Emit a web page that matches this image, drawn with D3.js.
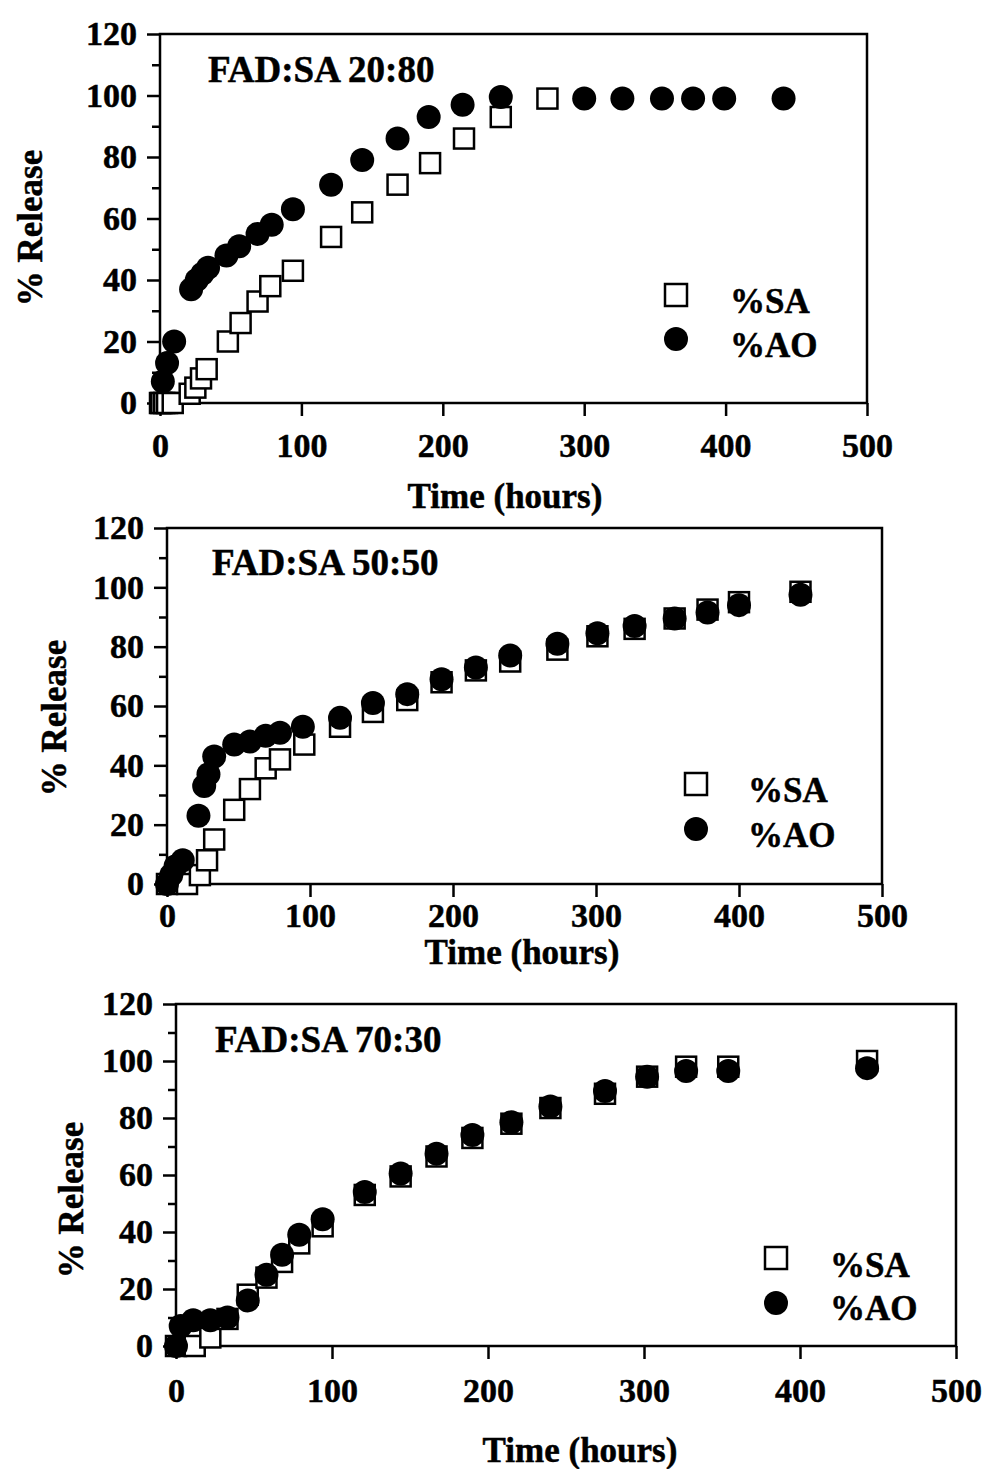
<!DOCTYPE html>
<html>
<head>
<meta charset="utf-8">
<script src="https://cdn.jsdelivr.net/npm/d3@7/dist/d3.min.js"></script>
<style>
  body { margin: 0; background: #fff; }
  text { font-family: "Liberation Serif", "Times New Roman", serif; font-weight: bold; fill: #000;
         stroke: #000; stroke-width: 0.5px; }
</style>
</head>
<body>
<svg id="chart" width="988" height="1469"></svg>
<script>
// ---- data: [time (hours), % release]
var titles = ['FAD:SA 20:80', 'FAD:SA 50:50', 'FAD:SA 70:30'];
var legendLabels = ['%SA', '%AO'];
var xTicks = [0, 100, 200, 300, 400, 500];
var yTicks = [0, 20, 40, 60, 80, 100, 120];
var yMinorTicks = [10, 30, 50, 70, 90, 110];

var sa2080 = [[0,0],[1,0],[3,0],[5,0],[9,0],[21,3],[25,5],[29,8],[33,11],[48,20],[57,26],[69,33],[78,38],[94,43],
  [121,54],[143,62],[168,71],[191,78],[215,86],[241,93],[274,99]];
var ao2080 = [[2,7],[5,13],[10,20],[22,37],[26,40],[30,42],[34,44],[47,48],[56,51],[69,55],[79,58],[94,63],
  [121,71],[143,79],[168,86],[190,93],[214,97],[241,99.5],[300,99],[327,99],[355,99],[377,99],[399,99],[441,99]];

var sa5050 = [[0,0],[14,0],[23,3],[28,8],[33,15],[47,25],[58,32],[69,39],[79,42],[96,47],[121,53],[144,58],
  [168,62],[192,68],[216,72],[240,75],[273,79],[301,83.5],[327,86],[355,89.5],[378,92.5],[400,95],[443,98.5]];
var ao5050 = [[0,0],[3,3],[6,6],[11,8],[22,23],[26,33],[29,37],[33,43],[47,47],[58,48],[69,50],[79,51],[95,53],
  [121,56],[144,61],[168,64],[192,69],[216,73],[240,77],[273,81],[301,84.5],[327,87],[355,89.5],[378,91.5],[400,94],[443,97.5]];

var sa7030 = [[0,0],[12,0],[22,3],[33,9.5],[46,18],[58,24],[68,29.5],[79,36],[94,42],[121,53],[144,59.5],
  [167,66.5],[190,73],[215,78],[240,83.5],[275,88.5],[302,94.5],[327,98],[354,98],[443,100]];
var ao7030 = [[0,0],[3,7],[11,9],[22,9],[33,10],[46,16],[58,25],[68,32],[79,39],[94,44.5],[121,54],[144,60.5],
  [167,67.5],[190,74],[215,78.5],[240,84],[275,89.5],[302,94.5],[327,96.5],[354,96.5],[443,97.5]];

// ---- layout of the three panels (pixel positions)
var panels = [
  {sa: sa2080, ao: ao2080, x0: 160, x1: 867, y0: 403, y1: 34, xPad: 17,
   xt: [505, 508], yt: [42, 228], tt: [208, 82], leg: [676, 295, 339], legText: [730, 313, 357]},
  {sa: sa5050, ao: ao5050, x0: 167, x1: 882, y0: 884, y1: 528, xPad: 6,
   xt: [522, 964], yt: [66, 718], tt: [212, 575], leg: [696, 784, 829], legText: [748, 802, 847]},
  {sa: sa7030, ao: ao7030, x0: 176, x1: 956, y0: 1346, y1: 1004, xPad: 19,
   xt: [580, 1462], yt: [83, 1200], tt: [215, 1052], leg: [776, 1258, 1303], legText: [830, 1277, 1320]}
];

var svg = d3.select('#chart');
var sq = 20, rad = 12;

panels.forEach(function (p, i) {
  var g = svg.append('g');

  var x = d3.scaleLinear().domain([0, 500]).range([p.x0, p.x1]);
  var y = d3.scaleLinear().domain([0, 120]).range([p.y0, p.y1]);

  // x axis
  var xa = g.append('g')
    .attr('transform', 'translate(0,' + p.y0 + ')')
    .call(d3.axisBottom(x).tickValues(xTicks).tickSize(13).tickPadding(p.xPad).tickFormat(d3.format('d')));

  // y axis, major + minor
  var ya = g.append('g')
    .attr('transform', 'translate(' + p.x0 + ',0)')
    .call(d3.axisLeft(y).tickValues(yTicks).tickSize(13).tickPadding(10).tickFormat(d3.format('d')));
  var ym = g.append('g')
    .attr('transform', 'translate(' + p.x0 + ',0)')
    .call(d3.axisLeft(y).tickValues(yMinorTicks).tickSize(8).tickFormat(''));

  [xa, ya, ym].forEach(function (a) {
    a.select('.domain').remove();
    a.selectAll('line').attr('stroke', '#000').attr('stroke-width', 2.5);
    a.selectAll('text').attr('font-size', 34).attr('fill', '#000')
      .style('font-family', '"Liberation Serif", serif').style('font-weight', 'bold');
  });

  // frame
  g.append('rect')
    .attr('x', p.x0).attr('y', p.y1)
    .attr('width', p.x1 - p.x0).attr('height', p.y0 - p.y1)
    .attr('fill', 'none').attr('stroke', '#000').attr('stroke-width', 2.5);

  // SA squares
  g.append('g').selectAll('rect')
    .data(p.sa).enter().append('rect')
    .attr('x', function (d) { return x(d[0]) - sq / 2; })
    .attr('y', function (d) { return y(d[1]) - sq / 2; })
    .attr('width', sq).attr('height', sq)
    .attr('fill', '#fff').attr('stroke', '#000').attr('stroke-width', 2.5);

  // AO circles
  g.append('g').selectAll('circle')
    .data(p.ao).enter().append('circle')
    .attr('cx', function (d) { return x(d[0]); })
    .attr('cy', function (d) { return y(d[1]); })
    .attr('r', rad).attr('fill', '#000');

  // labels
  g.append('text')
    .attr('x', p.xt[0]).attr('y', p.xt[1])
    .attr('font-size', 35).attr('text-anchor', 'middle')
    .text('Time (hours)');

  g.append('text')
    .attr('transform', 'translate(' + p.yt[0] + ',' + p.yt[1] + ') rotate(-90)')
    .attr('font-size', 35).attr('text-anchor', 'middle')
    .text('% Release');

  g.append('text')
    .attr('x', p.tt[0]).attr('y', p.tt[1])
    .attr('font-size', 37)
    .text(titles[i]);

  // legend
  g.append('rect')
    .attr('x', p.leg[0] - 11).attr('y', p.leg[1] - 11)
    .attr('width', 22).attr('height', 22)
    .attr('fill', '#fff').attr('stroke', '#000').attr('stroke-width', 2.5);
  g.append('circle')
    .attr('cx', p.leg[0]).attr('cy', p.leg[2]).attr('r', 12).attr('fill', '#000');
  g.append('text')
    .attr('x', p.legText[0]).attr('y', p.legText[1])
    .attr('font-size', 35).text(legendLabels[0]);
  g.append('text')
    .attr('x', p.legText[0]).attr('y', p.legText[2])
    .attr('font-size', 35).text(legendLabels[1]);
});
</script>
</body>
</html>
